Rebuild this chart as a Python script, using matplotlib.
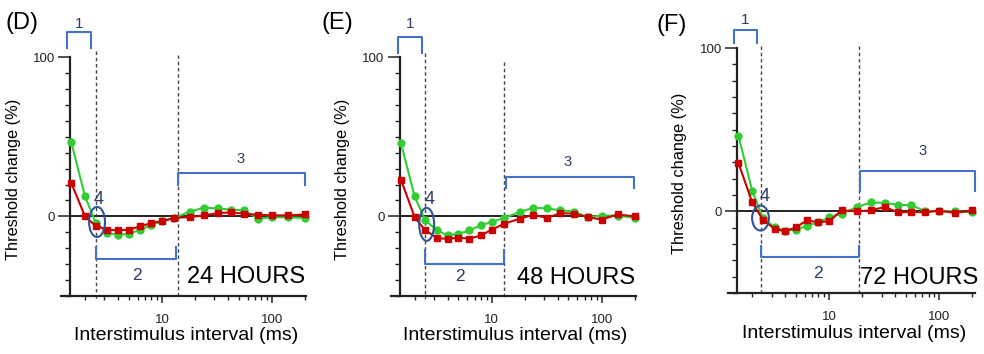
import matplotlib
matplotlib.use('Agg')
import matplotlib.pyplot as plt
from matplotlib.patches import Ellipse
from matplotlib.ticker import FixedLocator, LogLocator, NullFormatter, FixedFormatter

plt.rcParams['font.family'] = ['Liberation Sans', 'DejaVu Sans']

# interstimulus intervals (ms)
isi = [1.5, 2, 2.5, 3.2, 4, 5, 6.3, 8, 10, 13, 18, 24, 32, 42, 56, 75, 100, 140, 200]

# threshold change (%)
green_24 = [46.6, 12.5, -4, -10.5, -11.5, -11, -8.4, -5.6, -3, -1, 3, 5.4, 5, 4.2, 3.8, -1.5, -0.5, -0.6, -1]
red_24 = [21, 0, -6, -8.4, -8.8, -8.4, -6.3, -4.2, -3, -1, -0.4, 0.6, 2, 2.5, 1.7, 1, 0.6, 0.6, 1.2]

green_48 = [46, 12.5, -2.5, -8.8, -12, -11, -8.8, -5.6, -3.5, -1, 2.7, 5.4, 5, 3.8, 3, -0.5, 0.5, 0.5, -1]
red_48 = [23, -0.5, -8.8, -13.6, -14.2, -13.4, -14, -12, -8.4, -4.6, -1.5, 1, -1, 2, 1.7, -0.5, -2, 1.2, 0]

green_72 = [46.3, 12.7, -4, -9.8, -11.8, -11.2, -8.8, -6.7, -3.7, -1.4, 2.7, 5.5, 5.1, 4, 3.7, 0, 0.4, 0, -0.6]
red_72 = [29.6, 5.5, -5, -10.8, -12.2, -9.8, -5.5, -6.7, -6.1, 0.6, 0, 0.6, 2.7, -0.6, -0.4, -0.6, 0.4, -1, 0.6]

panel_letters = ['(D)', '(E)', '(F)']
hours = ['24 HOURS', '48 HOURS', '72 HOURS']

BLUE = '#4472c4'
NAVY = '#2b3a67'
GREEN = '#33cc33'
RED = '#cc0000'

fig = plt.figure(figsize=(9.84, 3.54), dpi=100)

panels = [
    dict(rect=[0.062, 0.1638, 0.249, 0.675], xlim=(1.21, 204), yax=1.47,
         g=green_24, r=red_24, letter_xy=(0.006, 0.935),
         dash=[(2.5, 104), (14, 101)],
         b1=(1.37, 2.26, 116, 106), l1=(1.76, 121),
         b2=(2.5, 13.5, -27, -19), l2=(5.9, -37),
         b3=(14, 200, 27, 19.5), l3=(52, 36),
         l4=(2.67, 10.7), ell=(0.147, 0.31, 0.065, 0.126),
         hx=0.996, hy=0.08),
    dict(rect=[0.397, 0.1638, 0.249, 0.675], xlim=(1.21, 204), yax=1.47,
         g=green_48, r=red_48, letter_xy=(0.327, 0.935),
         dash=[(2.5, 102.5), (13, 97)],
         b1=(1.4, 2.31, 112.6, 102.5), l1=(1.8, 120.7),
         b2=(2.5, 13, -29.6, -21.4), l2=(5.2, -38),
         b3=(13.5, 195, 24.5, 17.6), l3=(49, 34),
         l4=(2.75, 10.7), ell=(0.147, 0.30, 0.061, 0.138),
         hx=0.996, hy=0.075),
    dict(rect=[0.740, 0.1723, 0.251, 0.692], xlim=(1.21, 212), yax=1.46,
         g=green_72, r=red_72, letter_xy=(0.667, 0.93),
         dash=[(2.4, 101), (18.7, 101)],
         b1=(1.36, 2.2, 111, 103), l1=(1.71, 117),
         b2=(2.4, 18.7, -28, -21.4), l2=(7.9, -37.8),
         b3=(19, 210, 24.5, 12.2), l3=(70.5, 37),
         l4=(2.6, 9.2), ell=(0.131, 0.306, 0.068, 0.102),
         hx=1.012, hy=0.061),
]

for i, p in enumerate(panels):
    ax = fig.add_axes(p['rect'])
    ax.set_xscale('log')
    ax.set_xlim(*p['xlim'])
    ax.set_ylim(-50, 100)
    ax.patch.set_alpha(0)

    for s in ['top', 'right']:
        ax.spines[s].set_visible(False)
    ax.spines['left'].set_position(('data', p['yax']))
    for s in ['left', 'bottom']:
        ax.spines[s].set_linewidth(1.6)
        ax.spines[s].set_color('#222222')

    # axis ticks
    ax.xaxis.set_major_locator(FixedLocator([10, 100]))
    ax.xaxis.set_major_formatter(FixedFormatter(['10', '100']))
    ax.xaxis.set_minor_locator(LogLocator(base=10, subs=range(2, 10)))
    ax.xaxis.set_minor_formatter(NullFormatter())
    ax.yaxis.set_major_locator(FixedLocator([0, 100]))
    ax.yaxis.set_major_formatter(FixedFormatter(['0', '100']))
    ax.yaxis.set_minor_locator(FixedLocator(range(-50, 101, 10)))
    ax.tick_params(axis='x', which='major', length=5, width=1.1, pad=8,
                   labelsize=9.5, colors='#222222')
    ax.tick_params(axis='x', which='minor', length=3, width=1.0, colors='#222222')
    ax.tick_params(axis='y', which='major', length=9, width=1.1, pad=2,
                   labelsize=9.5, colors='#222222')
    ax.tick_params(axis='y', which='minor', length=3.6, width=1.0, colors='#222222')

    ax.set_xlabel('Interstimulus interval (ms)', fontsize=14)
    ax.xaxis.set_label_coords(0.51, -0.13)
    ax.set_ylabel('Threshold change (%)', fontsize=11.8)
    ax.yaxis.set_label_coords(-0.165, 0.49)

    # zero line
    ax.hlines(0, p['yax'], p['xlim'][1], color='#222222', lw=1.4, zorder=1)

    # vertical dashed separators
    for xd, ytop in p['dash']:
        ax.plot([xd, xd], [ytop, -52], color='#444444', lw=1.0,
                ls=(0, (2.5, 2)), clip_on=False, zorder=1)

    # data
    ax.plot(isi, p['g'], color=GREEN, lw=1.5, marker='o', ms=5,
            clip_on=False, zorder=3)
    ax.plot(isi, p['r'], color=RED, lw=1.5, marker='s', ms=4.4,
            clip_on=False, zorder=4)

    # bracket 1 (opens down)
    x0, x1, yb, yl = p['b1']
    ax.plot([x0, x0, x1, x1], [yl, yb, yb, yl], color=BLUE, lw=1.5,
            clip_on=False, solid_joinstyle='round')
    ax.text(*p['l1'], '1', color=NAVY, fontsize=11, ha='center', va='center')
    # bracket 2 (opens up)
    x0, x1, yb, yl = p['b2']
    ax.plot([x0, x0, x1, x1], [yl, yb, yb, yl], color=BLUE, lw=1.5,
            clip_on=False)
    ax.text(*p['l2'], '2', color=NAVY, fontsize=12.5, ha='center', va='center')
    # bracket 3 (opens down)
    x0, x1, yb, yl = p['b3']
    ax.plot([x0, x0, x1, x1], [yl, yb, yb, yl], color=BLUE, lw=1.5,
            clip_on=False)
    ax.text(*p['l3'], '3', color=NAVY, fontsize=10.5, ha='center', va='center')
    # ellipse 4
    ex, ey, ew, eh = p['ell']
    ax.add_patch(Ellipse((ex, ey), ew, eh, transform=ax.transAxes,
                         fill=False, ec='#2f5597', lw=1.5, zorder=5))
    ax.text(*p['l4'], '4', color=NAVY, fontsize=13, ha='center', va='center')

    ax.text(p['hx'], p['hy'], hours[i], transform=ax.transAxes, fontsize=17,
            ha='right', va='center', color='black', clip_on=False)

    fig.text(p['letter_xy'][0], p['letter_xy'][1], panel_letters[i],
             fontsize=17, ha='left', va='center')

fig.savefig('out.png', dpi=100)
